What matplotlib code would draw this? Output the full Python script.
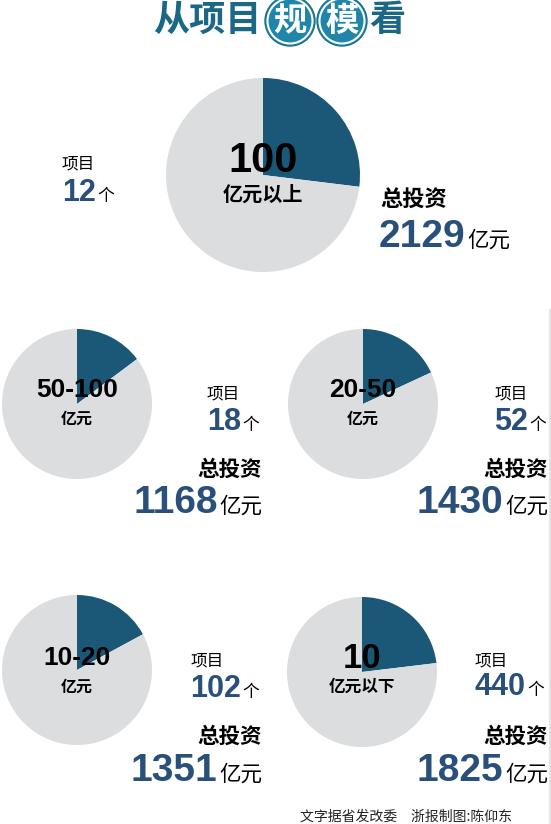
import matplotlib
matplotlib.use('Agg')
import matplotlib.pyplot as plt
from matplotlib.patches import Circle

plt.rcParams['font.family'] = ['Noto Sans CJK SC', 'DejaVu Sans']

# data
range_top = ['100', '50-100', '20-50', '10-20', '10']
range_sub = ['亿元以上', '亿元', '亿元', '亿元', '亿元以下']
projects = [12, 18, 52, 102, 440]
investment = [2129, 1168, 1430, 1351, 1825]
title_parts = ['从项目', '规', '模', '看']
footer = '文字据省发改委　浙报制图:陈仰东'

W, H = 551, 824
DARK = '#1b5877'
GRAY = '#dcdddf'
BLUE = '#29507a'
TEAL = '#1b6886'
NUM_FONT = ['Liberation Sans', 'Noto Sans CJK SC']

total = sum(investment)
share = [v / total for v in investment]

# layout (pixel coords, y from top)
centers = [(263, 175), (77, 404), (363, 404), (77, 670), (362, 672)]
radii = [97, 75, 75, 75, 75]
lab_size = [(30, 14.5), (19, 11.5), (19, 11.5), (19, 11.5), (25, 12)]
lab_y = [(172, 201), (397, 424), (397, 424), (665, 692), (668, 692)]


def Y(y):
    return H - y


fig = plt.figure(figsize=(W / 100, H / 100), dpi=100)
ax = fig.add_axes([0, 0, 1, 1])

for i in range(5):
    cx, cy = centers[i]
    ax.pie([share[i], 1 - share[i]], colors=[DARK, GRAY], startangle=90,
           counterclock=False, center=(cx, Y(cy)), radius=radii[i],
           wedgeprops=dict(linewidth=0))
    ax.text(cx, Y(lab_y[i][0]), range_top[i], ha='center', va='baseline',
            fontsize=lab_size[i][0], fontweight='bold', family=NUM_FONT,
            color='black')
    ax.text(cx, Y(lab_y[i][1]), range_sub[i], ha='center', va='baseline',
            fontsize=lab_size[i][1], fontweight='bold', color='black')

ax.set_xlim(0, W)
ax.set_ylim(0, H)
ax.set_aspect('equal')
ax.axis('off')

# top block, left aligned
ax.text(62, Y(168), '项目', ha='left', va='baseline', fontsize=12, color='black')
n = ax.text(62, Y(201), str(projects[0]), ha='left', va='baseline', fontsize=22,
            fontweight='bold', family=NUM_FONT, color=BLUE)
ax.annotate('个', xy=(1, Y(201)), xycoords=(n, 'data'), xytext=(1, 0),
            textcoords='offset points', ha='left', va='baseline', fontsize=12)
ax.text(380, Y(207), '总投资', ha='left', va='baseline', fontsize=16,
        fontweight='heavy', color='black')
n = ax.text(379, Y(247), str(investment[0]), ha='left', va='baseline', fontsize=28,
            fontweight='bold', family=NUM_FONT, color=BLUE)
ax.annotate('亿元', xy=(1, Y(247)), xycoords=(n, 'data'), xytext=(1, 0),
            textcoords='offset points', ha='left', va='baseline', fontsize=15.5)

# other blocks, right aligned
block_right = [None, (259, 262), (546, 548), (259, 262), (544, 548)]
block_y = [None, (398, 430, 476, 513), (398, 430, 476, 513),
           (665, 697, 743, 781), (665, 695, 743, 781)]
for i in range(1, 5):
    r1, r2 = block_right[i]
    y1, y2, y3, y4 = block_y[i]
    u = ax.text(r1, Y(y2), '个', ha='right', va='baseline', fontsize=12)
    n = ax.annotate(str(projects[i]), xy=(0, Y(y2)), xycoords=(u, 'data'),
                    xytext=(-1, 0), textcoords='offset points', ha='right',
                    va='baseline', fontsize=22, fontweight='bold',
                    family=NUM_FONT, color=BLUE)
    ax.annotate('项目', xy=(0, Y(y1)), xycoords=(n, 'data'), ha='left',
                va='baseline', fontsize=12)
    ax.text(r2, Y(y3), '总投资', ha='right', va='baseline', fontsize=15.5,
            fontweight='heavy', color='black')
    u = ax.text(r2, Y(y4), '亿元', ha='right', va='baseline', fontsize=15.5)
    ax.annotate(str(investment[i]), xy=(0, Y(y4)), xycoords=(u, 'data'),
                xytext=(-1, 0), textcoords='offset points', ha='right',
                va='baseline', fontsize=28, fontweight='bold',
                family=NUM_FONT, color=BLUE)

# title
ax.text(262, Y(31), title_parts[0], ha='right', va='baseline', fontsize=26,
        fontweight='heavy', color=TEAL)
for cx, ch in [(290, title_parts[1]), (342, title_parts[2])]:
    ax.add_patch(Circle((cx, Y(21)), 25, facecolor='#1f86aa', edgecolor='#1a6f8e',
                        linewidth=1))
    ax.add_patch(Circle((cx, Y(21)), 22.5, facecolor='none', edgecolor='white',
                        linewidth=1.5))
    ax.text(cx, Y(31), ch, ha='center', va='baseline', fontsize=24,
            fontweight='heavy', color='white')
ax.text(369, Y(31), title_parts[3], ha='left', va='baseline', fontsize=26,
        fontweight='heavy', color=TEAL)

# footer and right edge rule
ax.text(300, Y(821), footer, ha='left', va='baseline', fontsize=10, color='#222222')
ax.plot([550, 550], [Y(310), Y(824)], color='#e2e2e2', linewidth=2)

fig.savefig('out.png', dpi=100, facecolor='white')
